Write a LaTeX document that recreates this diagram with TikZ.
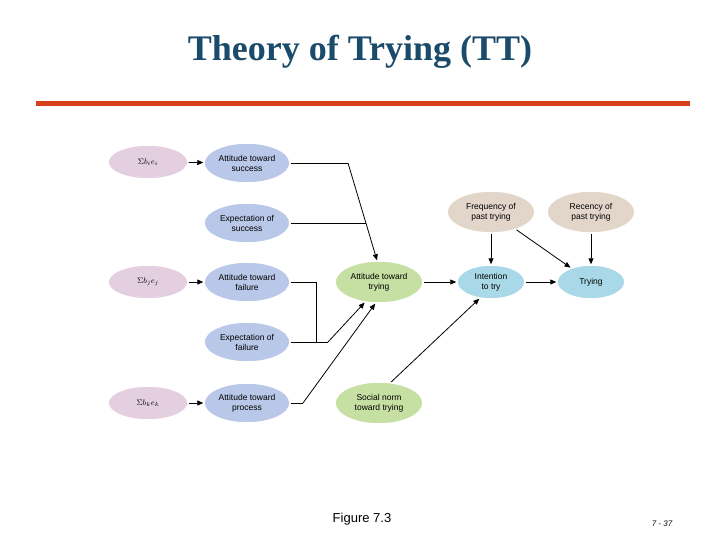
\documentclass[tikz,border=0pt]{standalone}
\usepackage{fontspec}
\setmainfont{Liberation Serif}
\setsansfont{Liberation Sans}
\usetikzlibrary{shapes.geometric,arrows.meta}
\definecolor{pinkc}{HTML}{E4CFE0}
\definecolor{bluec}{HTML}{B9C7E8}
\definecolor{greenc}{HTML}{C5E0A2}
\definecolor{cyanc}{HTML}{A9D9E8}
\definecolor{beigec}{HTML}{E2D6CA}
\definecolor{titlec}{HTML}{1B4B6B}
\definecolor{redc}{HTML}{D8401A}
\begin{document}
\begin{tikzpicture}[x=1pt,y=-1pt,
 el/.style={ellipse,draw=white,line width=1.5pt,inner sep=0pt,align=center,font=\sffamily\fontsize{8.5}{10}\selectfont,minimum width=86pt,minimum height=40pt},
 arr/.style={-{Triangle[length=6pt,width=5pt]},line width=0.8pt},
 ln/.style={line width=0.8pt}]
\useasboundingbox (0,0) rectangle (720,540);
\node[font=\bfseries\fontsize{36}{40}\selectfont,text=titlec] (title) at (360,52) {Theory of Trying (TT)};
\draw[redc,line width=5pt] (36,104) -- (690,104);
\node[el,fill=pinkc,minimum width=80pt,minimum height=34pt] (s1) at (148,162) {$\Sigma b_i e_i$};
\node[el,fill=pinkc,minimum width=80pt,minimum height=34pt] (s2) at (148,282) {$\Sigma b_j e_j$};
\node[el,fill=pinkc,minimum width=80pt,minimum height=34pt] (s3) at (148,403) {$\Sigma b_k e_k$};
\node[el,fill=bluec] (ats) at (247,163) {Attitude toward\\success};
\node[el,fill=bluec] (es) at (247,223) {Expectation of\\success};
\node[el,fill=bluec] (atf) at (247,282) {Attitude toward\\failure};
\node[el,fill=bluec] (ef) at (247,342) {Expectation of\\failure};
\node[el,fill=bluec] (atp) at (247,403) {Attitude toward\\process};
\node[el,fill=greenc,minimum width=88pt,minimum height=42pt] (att) at (379,282) {Attitude toward\\trying};
\node[el,fill=greenc,minimum width=88pt,minimum height=42pt] (snt) at (379,403) {Social norm\\toward trying};
\node[el,fill=cyanc,minimum width=68pt,minimum height=34pt] (int) at (491,282) {Intention\\to try};
\node[el,fill=cyanc,minimum width=68pt,minimum height=34pt] (try) at (591,282) {Trying};
\node[el,fill=beigec,minimum width=88pt,minimum height=42pt] (fpt) at (491,212) {Frequency of\\past trying};
\node[el,fill=beigec,minimum width=88pt,minimum height=42pt] (rpt) at (591,212) {Recency of\\past trying};
\coordinate (c1) at (348,163);
\coordinate (c2) at (366,223);
\coordinate (c3) at (316,282);
\coordinate (c4) at (328,342);
\coordinate (c5) at (303,403);
\draw[arr] (s1) -- (ats);
\draw[arr] (s2) -- (atf);
\draw[arr] (s3) -- (atp);
\draw[ln] (ats.east) -- (c1);
\draw[arr] (c1) -- (att.north -| 377,0);
\draw[ln] (es.east) -- (c2);
\draw[ln] (atf.east) -- (c3) |- (c4);
\draw[ln] (ef.east) -- (c4);
\draw[arr] (c4) -- (att.235);
\draw[arr] (c5) -- (att.260);
\draw[ln] (atp.east) -- (c5);
\draw[arr] (att) -- (int);
\draw[arr] (int) -- (try);
\draw[arr] (fpt) -- (int);
\draw[arr] (rpt) -- (try);
\draw[arr] (fpt.-35) -- (try.145);
\draw[arr] (snt.60) -- (int.235);
\node[font=\sffamily\fontsize{13}{15}\selectfont] (fig) at (362,519) {Figure 7.3};
\node[font=\sffamily\itshape\fontsize{8}{10}\selectfont] (pg) at (662,524) {7 - 37};
\end{tikzpicture}
\end{document}
